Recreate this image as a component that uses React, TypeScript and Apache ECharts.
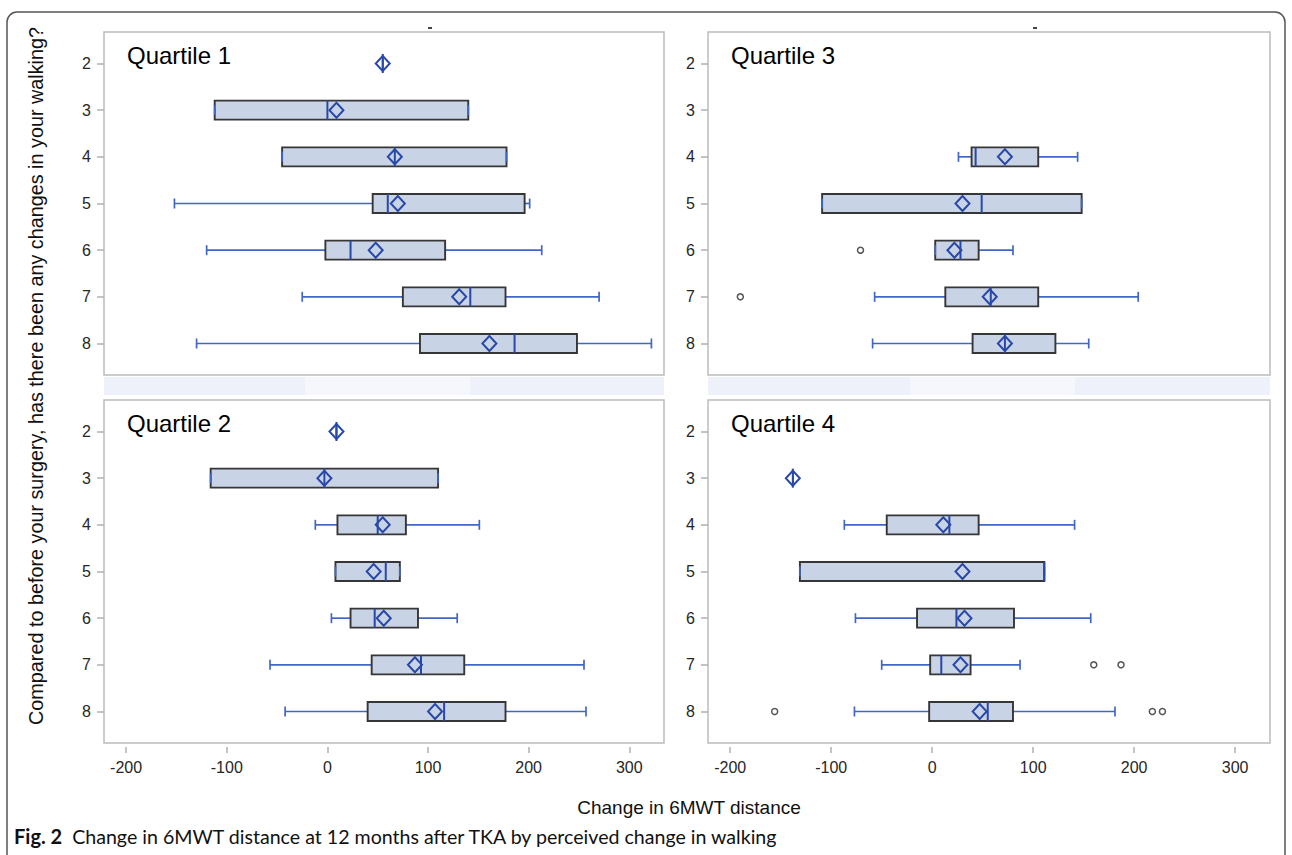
import React, { useEffect, useRef } from "react";
import * as echarts from "echarts";

// ---- data ----
const yCategories = [2, 3, 4, 5, 6, 7, 8];
const xTicks = [-200, -100, 0, 100, 200, 300];
const panelTitles = ["Quartile 1", "Quartile 3", "Quartile 2", "Quartile 4"];

// [row, whiskerLow, q1, median, q3, whiskerHigh]
const boxesQ1 = [
  [2, 55, 55, 55, 55, 55],
  [3, -112, -112, 0, 140, 140],
  [4, -45, -45, 67, 178, 178],
  [5, -152, 45, 60, 196, 201],
  [6, -120, -2, 23, 117, 213],
  [7, -25, 75, 142, 177, 270],
  [8, -130, 92, 186, 248, 322],
];
const meansQ1 = [[2, 55], [3, 9], [4, 67], [5, 70], [6, 48], [7, 131], [8, 161]];
const outliersQ1: number[][] = [];

const boxesQ2 = [
  [2, 9, 9, 9, 9, 9],
  [3, -116, -116, -3, 110, 110],
  [4, -12, 10, 50, 78, 151],
  [5, 8, 8, 58, 72, 72],
  [6, 4, 23, 47, 90, 129],
  [7, -57, 44, 93, 136, 255],
  [8, -42, 40, 116, 177, 257],
];
const meansQ2 = [[2, 9], [3, -3], [4, 55], [5, 46], [6, 56], [7, 87], [8, 107]];
const outliersQ2: number[][] = [];

const boxesQ3 = [
  [4, 26, 39, 43, 105, 144],
  [5, -109, -109, 49, 148, 148],
  [6, 3, 3, 28, 46, 80],
  [7, -57, 13, 58, 105, 204],
  [8, -59, 40, 72, 122, 155],
];
const meansQ3 = [[4, 72], [5, 30], [6, 22], [7, 57], [8, 72]];
const outliersQ3 = [[6, -71], [7, -190]];

const boxesQ4 = [
  [3, -138, -138, -138, -138, -138],
  [4, -87, -45, 17, 46, 141],
  [5, -131, -131, 111, 111, 111],
  [6, -76, -15, 24, 81, 157],
  [7, -50, -2, 9, 38, 87],
  [8, -77, -3, 55, 80, 181],
];
const meansQ4 = [[3, -138], [4, 11], [5, 30], [6, 32], [7, 28], [8, 47]];
const outliersQ4 = [[7, 160], [7, 187], [8, -156], [8, 218], [8, 228]];

const yTitle = "Compared to before your surgery, has there been any changes in your walking?";
const xTitle = "Change in 6MWT distance";
const captionBold = "Fig. 2";
const captionText = "Change in 6MWT distance at 12 months after TKA by perceived change in walking";

const FONT = "'Liberation Sans', Arial, sans-serif";

export default function App() {
  const ref = useRef<HTMLDivElement>(null);
  useEffect(() => {
    if (!ref.current) return;
    const chart = echarts.init(ref.current, null, { renderer: "svg" });

    const panels = [
      { boxes: boxesQ1, means: meansQ1, outliers: outliersQ1, left: 104, top: 32, width: 560, bottomAxis: false },
      { boxes: boxesQ3, means: meansQ3, outliers: outliersQ3, left: 708, top: 32, width: 562, bottomAxis: false },
      { boxes: boxesQ2, means: meansQ2, outliers: outliersQ2, left: 104, top: 400, width: 560, bottomAxis: true },
      { boxes: boxesQ4, means: meansQ4, outliers: outliersQ4, left: 708, top: 400, width: 562, bottomAxis: true },
    ];

    const grid = panels.map((p) => ({
      left: p.left,
      top: p.top,
      width: p.width,
      height: 343,
      show: true,
      borderColor: "#bcbcbc",
      borderWidth: 1.5,
      backgroundColor: "#ffffff",
    }));

    const xAxis = panels.map((p, i) => ({
      type: "value",
      gridIndex: i,
      position: "bottom",
      min: -222,
      max: 334.5,
      offset: 4,
      splitLine: { show: false },
      axisLine: { show: false, onZero: false },
      axisTick: {
        show: p.bottomAxis,
        customValues: xTicks,
        length: 6,
        lineStyle: { color: "#b0b0b0", width: 1.5 },
      },
      axisLabel: {
        show: p.bottomAxis,
        customValues: xTicks,
        margin: 12,
        fontSize: 16,
        color: "#262626",
        fontFamily: FONT,
      },
    }));

    const yAxis = panels.map((p, i) => ({
      type: "value",
      gridIndex: i,
      position: "left",
      inverse: true,
      min: 1.325,
      max: 8.675,
      splitLine: { show: false },
      axisLine: { show: false, onZero: false },
      axisTick: {
        show: true,
        customValues: yCategories,
        length: 7,
        lineStyle: { color: "#b0b0b0", width: 1.5 },
      },
      axisLabel: {
        show: true,
        customValues: yCategories,
        margin: 13,
        fontSize: 16,
        color: "#262626",
        fontFamily: FONT,
      },
    }));

    const renderBox = (params: any, api: any) => {
      const row = api.value(0);
      const lo = api.value(1);
      const q1 = api.value(2);
      const med = api.value(3);
      const q3 = api.value(4);
      const hi = api.value(5);
      const [xLo, y] = api.coord([lo, row]);
      const xQ1 = api.coord([q1, row])[0];
      const xMed = api.coord([med, row])[0];
      const xQ3 = api.coord([q3, row])[0];
      const xHi = api.coord([hi, row])[0];
      const h = 9.5;
      const cap = 5;
      const wStyle = { stroke: "#4167c4", lineWidth: 1.7 };
      const children: any[] = [];
      if (lo < q1) children.push({ type: "line", shape: { x1: xLo, y1: y, x2: xQ1, y2: y }, style: wStyle });
      if (hi > q3) children.push({ type: "line", shape: { x1: xQ3, y1: y, x2: xHi, y2: y }, style: wStyle });
      if (q3 > q1) {
        children.push({
          type: "rect",
          shape: { x: xQ1, y: y - h, width: xQ3 - xQ1, height: 2 * h },
          style: { fill: "#c9d3e6", stroke: "#363636", lineWidth: 1.9 },
        });
      }
      children.push({ type: "line", shape: { x1: xLo, y1: y - cap, x2: xLo, y2: y + cap }, style: wStyle });
      children.push({ type: "line", shape: { x1: xHi, y1: y - cap, x2: xHi, y2: y + cap }, style: wStyle });
      children.push({
        type: "line",
        shape: { x1: xMed, y1: y - h, x2: xMed, y2: y + h },
        style: { stroke: "#2848a8", lineWidth: 2 },
      });
      return { type: "group", children };
    };

    const series: any[] = [];
    panels.forEach((p, i) => {
      series.push({
        type: "custom",
        xAxisIndex: i,
        yAxisIndex: i,
        renderItem: renderBox,
        encode: { x: [1, 2, 3, 4, 5], y: 0 },
        data: p.boxes,
        z: 2,
      });
      series.push({
        type: "scatter",
        xAxisIndex: i,
        yAxisIndex: i,
        symbol: "diamond",
        symbolSize: [14, 15],
        itemStyle: { color: "rgba(0,0,0,0)", borderColor: "#2848a8", borderWidth: 2, opacity: 1 },
        data: p.means.map(([r, m]) => [m, r]),
        z: 3,
      });
      series.push({
        type: "scatter",
        xAxisIndex: i,
        yAxisIndex: i,
        symbol: "circle",
        symbolSize: 6,
        itemStyle: { color: "#ffffff", borderColor: "#555555", borderWidth: 1.5, opacity: 1 },
        data: p.outliers.map(([r, v]) => [v, r]),
        z: 3,
      });
    });

    const titleGraphics = panels.map((p, i) => ({
      type: "text",
      x: p.left + 23,
      y: p.top + 23.5,
      z: 10,
      style: {
        text: panelTitles[i],
        font: `24px ${FONT}`,
        fill: "#000",
        verticalAlign: "middle",
        align: "left",
      },
    }));

    const option: any = {
      animation: false,
      backgroundColor: "#ffffff",
      grid,
      xAxis,
      yAxis,
      series,
      graphic: [
        {
          type: "rect",
          shape: { x: 7, y: 12, width: 1278, height: 900, r: [10, 10, 0, 0] },
          style: { fill: "none", stroke: "#555", lineWidth: 1.5 },
          z: 0,
        },
        { type: "rect", shape: { x: 104, y: 377, width: 560, height: 18 }, style: { fill: "#eef0fa" } },
        { type: "rect", shape: { x: 305, y: 377, width: 165, height: 18 }, style: { fill: "#f6f7fd" } },
        { type: "rect", shape: { x: 708, y: 377, width: 562, height: 18 }, style: { fill: "#eef0fa" } },
        { type: "rect", shape: { x: 910, y: 377, width: 165, height: 18 }, style: { fill: "#f6f7fd" } },
        { type: "rect", shape: { x: 428, y: 27, width: 4, height: 2 }, style: { fill: "#444" } },
        { type: "rect", shape: { x: 1033, y: 27, width: 4, height: 2 }, style: { fill: "#444" } },
        ...titleGraphics,
        {
          type: "text",
          x: 36,
          y: 376,
          rotation: Math.PI / 2,
          style: {
            text: yTitle,
            font: `19.8px ${FONT}`,
            fill: "#111",
            align: "center",
            verticalAlign: "middle",
          },
        },
        {
          type: "text",
          x: 689,
          y: 807,
          style: {
            text: xTitle,
            font: `19px ${FONT}`,
            fill: "#111",
            align: "center",
            verticalAlign: "middle",
          },
        },
        {
          type: "text",
          x: 14,
          y: 836,
          style: {
            text: `{b|${captionBold}}{n|  ${captionText}}`,
            verticalAlign: "middle",
            align: "left",
            rich: {
              b: { fontFamily: "Lato, 'Open Sans', sans-serif", fontWeight: "bold", fontSize: 20, fill: "#111" },
              n: { fontFamily: "Lato, 'Open Sans', sans-serif", fontSize: 19.6, fill: "#111" },
            },
          },
        },
      ],
    };

    chart.setOption(option);
    return () => chart.dispose();
  }, []);

  return (
    <div
      ref={ref}
      style={{ position: "fixed", left: 0, top: 0, width: 1292, height: 855, background: "#fff" }}
    />
  );
}
